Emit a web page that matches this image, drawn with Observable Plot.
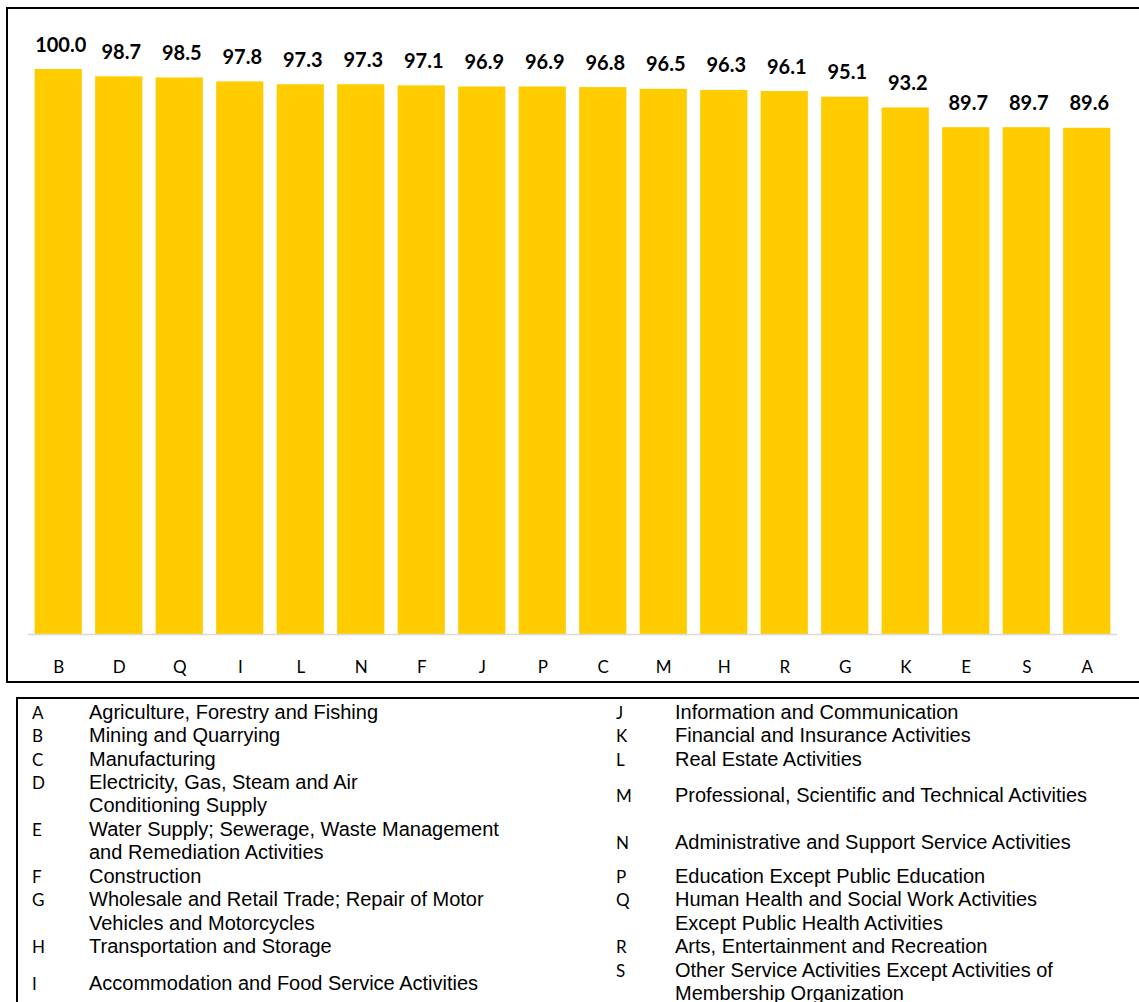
<!DOCTYPE html>
<html><head><meta charset="utf-8">
<script src="https://cdn.jsdelivr.net/npm/d3@7"></script>
<script src="https://cdn.jsdelivr.net/npm/@observablehq/plot@0.6"></script>
<style>
html,body{margin:0;padding:0;background:#fff;}
body{width:1139px;height:1002px;overflow:hidden;position:relative;}
#chartBox{position:absolute;left:6px;top:7px;width:1200px;height:676px;border:2px solid #000;box-sizing:border-box;}
#legendBox{position:absolute;left:16px;top:697px;width:1200px;height:400px;border:2px solid #000;box-sizing:border-box;}
#chart{position:absolute;left:0;top:0;}
.code{position:absolute;font-family:Lato,"Open Sans",sans-serif;font-size:17px;line-height:23.4px;color:#000;white-space:pre;}
.name{position:absolute;font-family:"Liberation Sans",Arial,sans-serif;font-size:20px;line-height:23.4px;color:#000;white-space:pre;}
</style>
</head><body>
<div id="chartBox"></div>
<div id="legendBox"></div>
<div id="chart"></div>
<div id="legend"></div>
<script>
const sectors = ["B","D","Q","I","L","N","F","J","P","C","M","H","R","G","K","E","S","A"];
const scores = [100.0,98.7,98.5,97.8,97.3,97.3,97.1,96.9,96.9,96.8,96.5,96.3,96.1,95.1,93.2,89.7,89.7,89.6];

const legendCodes = ["A","B","C","D","E","F","G","H","I","J","K","L","M","N","P","Q","R","S"];
const legendNames = [
  "Agriculture, Forestry and Fishing",
  "Mining and Quarrying",
  "Manufacturing",
  "Electricity, Gas, Steam and Air\nConditioning Supply",
  "Water Supply; Sewerage, Waste Management\nand Remediation Activities",
  "Construction",
  "Wholesale and Retail Trade; Repair of Motor\nVehicles and Motorcycles",
  "Transportation and Storage",
  "Accommodation and Food Service Activities",
  "Information and Communication",
  "Financial and Insurance Activities",
  "Real Estate Activities",
  "Professional, Scientific and Technical Activities",
  "Administrative and Support Service Activities",
  "Education Except Public Education",
  "Human Health and Social Work Activities\nExcept Public Health Activities",
  "Arts, Entertainment and Recreation",
  "Other Service Activities Except Activities of\nMembership Organization"
];

const data = sectors.map((s, i) => ({sector: s, value: scores[i]}));

const plot = Plot.plot({
  width: 1139, height: 690,
  marginLeft: 28, marginRight: 22, marginTop: 69, marginBottom: 56,
  style: {background: "transparent", overflow: "visible", color: "#000"},
  x: {domain: sectors, paddingInner: 0.22, paddingOuter: 0.11, round: false, label: null},
  y: {domain: [0, 100], axis: null},
  marks: [
    Plot.barY(data, {x: "sector", y: "value", fill: "#ffcc00"}),
    Plot.ruleY([0], {stroke: "#d9d9d9", strokeWidth: 1.5}),
    Plot.text(data, {x: "sector", y: "value", text: d => d.value.toFixed(1), lineAnchor: "bottom", dy: -18, dx: 2,
      fontSize: 20, fontWeight: "bold", fontFamily: "Lato", fill: "#000"}),
    Plot.axisX({tickSize: 0, tickPadding: 26, fontSize: 17, fontFamily: "Lato", fill: "#000", label: null})
  ]
});
document.getElementById("chart").appendChild(plot);

// legend layout
const legend = document.getElementById("legend");
const lineH = 23.45;
const firstTop = 700.6;
let cum = 0;
for (let r = 0; r < 9; r++) {
  const idxs = [r, r + 9];
  const nLines = Math.max(...idxs.map(i => legendNames[i].split("\n").length));
  const rowTop = firstTop + cum * lineH;
  idxs.forEach((i, col) => {
    const lines = legendNames[i].split("\n").length;
    const top = rowTop + (nLines - lines) * lineH / 2 + (nLines > lines ? 1.5 : 0);
    const c = document.createElement("div");
    c.className = "code";
    c.textContent = legendCodes[i];
    c.style.left = (col === 0 ? 32 : 616) + "px";
    c.style.top = top + "px";
    legend.appendChild(c);
    const n = document.createElement("div");
    n.className = "name";
    n.textContent = legendNames[i];
    n.style.left = (col === 0 ? 89 : 675) + "px";
    n.style.top = top + "px";
    legend.appendChild(n);
  });
  cum += nLines;
}
</script>
</body></html>
